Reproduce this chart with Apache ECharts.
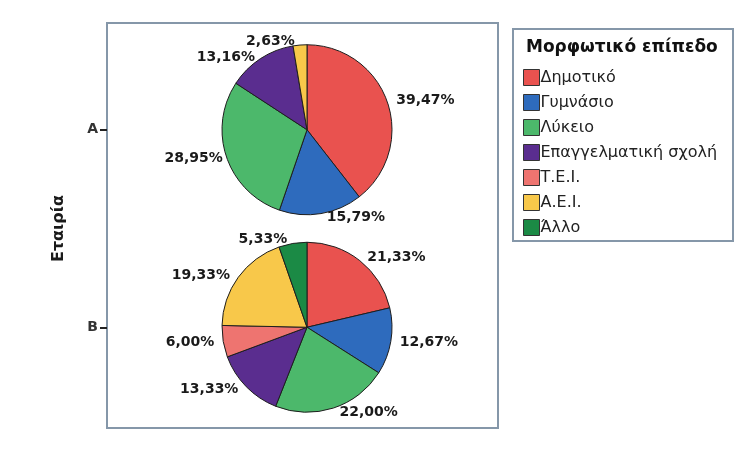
<!DOCTYPE html>
<html>
<head>
<meta charset="utf-8">
<script src="https://cdn.jsdelivr.net/npm/echarts@6/dist/echarts.min.js"></script>
<style>
  html, body { margin: 0; padding: 0; background: #fff; }
  #main { width: 756px; height: 453px; }
</style>
</head>
<body>
<div id="main"></div>
<script>
// κατηγορίες και τιμές (%)
var levels = ['Δημοτικό', 'Γυμνάσιο', 'Λύκειο', 'Επαγγελματική σχολή', 'Τ.Ε.Ι.', 'Α.Ε.Ι.', 'Άλλο'];
var companies = ['A', 'B'];
var valuesA = [39.47, 15.79, 28.95, 13.16, 0, 2.63, 0];
var valuesB = [21.33, 12.67, 22.00, 13.33, 6.00, 19.33, 5.33];
var colors = ['#e9524f', '#2e6bbd', '#4cb86b', '#5a2d8f', '#ee7470', '#f8c84a', '#1b8a45'];

var myChart = echarts.init(document.getElementById('main'));

function pieData(vals) {
  var out = [];
  vals.forEach(function (v, i) {
    if (v > 0) out.push({ name: levels[i], value: v, itemStyle: { color: colors[i] } });
  });
  return out;
}

function pieSeries(vals) {
  return {
    type: 'pie',
    radius: 85,
    center: [307, 200],
    startAngle: 90,
    clockwise: true,
    animation: false,
    itemStyle: { borderColor: '#1e1e1e', borderWidth: 1 },
    label: {
      show: true,
      position: 'outside',
      formatter: function (p) { return p.value.toFixed(2).replace('.', ',') + '%'; },
      fontFamily: 'DejaVu Sans',
      fontWeight: 'bold',
      fontSize: 14,
      color: '#1a1a1a'
    },
    labelLine: { show: false, length: 4, length2: 0 },
    emphasis: { disabled: true },
    data: pieData(vals)
  };
}

var option = {
  backgroundColor: '#fff',
  animation: false,
  color: colors,
  grid: [
    // πλαίσιο
    { left: 107, top: 23, right: 258, bottom: 25, show: true, borderColor: '#8597a9', borderWidth: 2, backgroundColor: '#fff' },
    // θέσεις κατηγοριών
    { left: 107, top: 31, right: 258, bottom: 27 }
  ],
  xAxis: [
    { type: 'value', show: false, min: 0, max: 1, gridIndex: 0 },
    { type: 'value', show: false, min: 0, max: 1, gridIndex: 1 }
  ],
  yAxis: {
    type: 'category',
    gridIndex: 1,
    data: companies.slice().reverse(),
    name: 'Εταιρία',
    nameLocation: 'middle',
    nameGap: 40,
    nameRotate: 90,
    nameTextStyle: { fontFamily: 'DejaVu Sans', fontWeight: 'bold', fontSize: 16, color: '#1a1a1a' },
    axisLine: { show: false },
    axisTick: { show: true, alignWithLabel: true, length: 7, lineStyle: { color: '#222', width: 2 } },
    axisLabel: { fontFamily: 'DejaVu Sans', fontWeight: 'bold', fontSize: 14, color: '#333', margin: 9 },
    splitLine: { show: false }
  },
  legend: {
    orient: 'vertical',
    left: 523,
    top: 69,
    padding: 0,
    data: levels,
    icon: 'rect',
    itemWidth: 16,
    itemHeight: 16,
    itemGap: 8,
    selectedMode: false,
    itemStyle: { borderColor: '#333', borderWidth: 1 },
    textStyle: { fontFamily: 'DejaVu Sans', fontSize: 16, lineHeight: 16, color: '#222', padding: [0, 0, 0, -4] }
  },
  graphic: [
    {
      type: 'rect',
      shape: { x: 513, y: 29, width: 220, height: 212 },
      style: { fill: '#fff', stroke: '#8597a9', lineWidth: 2 },
      z: -1
    },
    {
      type: 'text',
      left: 526,
      top: 39,
      style: {
        text: 'Μορφωτικό επίπεδο',
        fontFamily: 'DejaVu Sans',
        fontWeight: 'bold',
        fontSize: 17,
        fill: '#111'
      }
    }
  ],
  series: [pieSeries(valuesA), pieSeries(valuesB)]
};

myChart.setOption(option);

// κέντρα πιτών στις θέσεις των κατηγοριών του άξονα
var yA = myChart.convertToPixel({ yAxisIndex: 0 }, 'A');
var yB = myChart.convertToPixel({ yAxisIndex: 0 }, 'B');
myChart.setOption({
  series: [{ center: [307, yA] }, { center: [307, yB] }]
});
</script>
</body>
</html>
